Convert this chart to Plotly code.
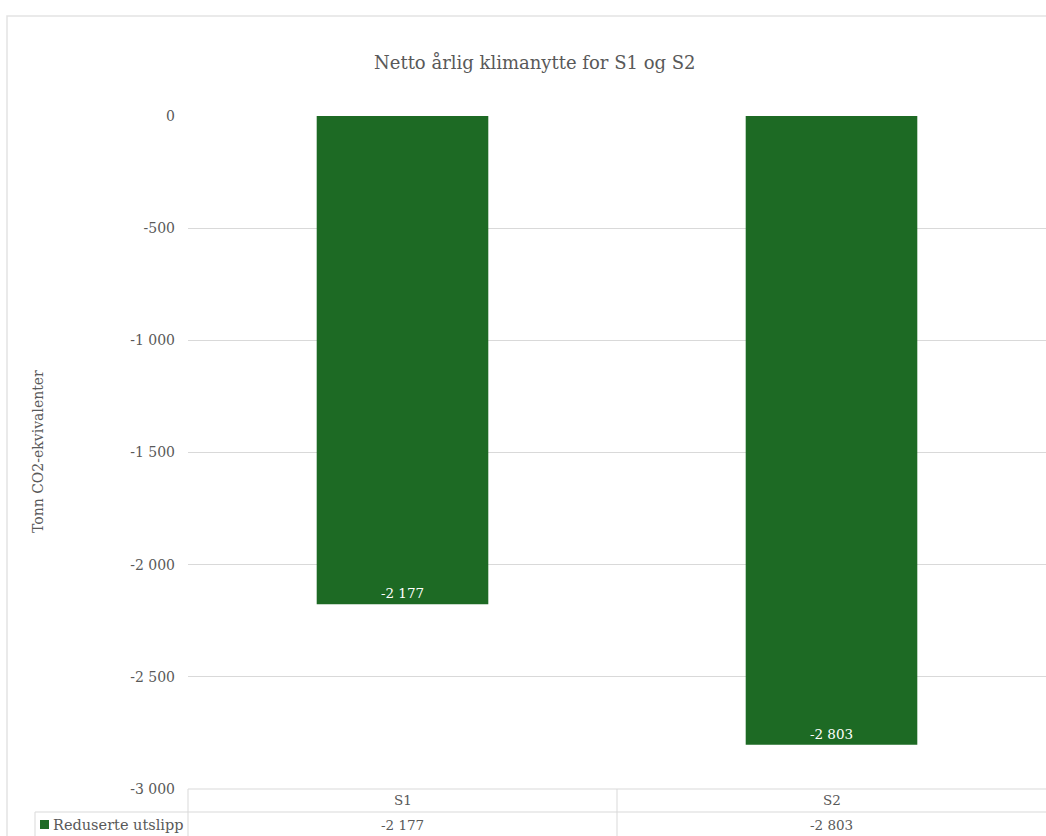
import plotly.graph_objects as go

# Data
categories = ["S1", "S2"]
series_name = "Reduserte utslipp"
values = [-2177, -2803]
tick_values = [0, -500, -1000, -1500, -2000, -2500, -3000]

title_text = "Netto årlig klimanytte for S1 og S2"
y_title = "Tonn CO2-ekvivalenter"

W, H = 1046, 836
ML, MR, MT, MB = 188, 0, 116, 47
PW, PH = W - ML - MR, H - MT - MB

FONT = "DejaVu Serif"
TXT = "#595959"
GRID = "#d9d9d9"
BAR = "#1d6a24"


def fmt(v):
    s = f"{abs(v):,}".replace(",", " ")
    return ("-" if v < 0 else "") + s


def px(x):
    return (x - ML) / PW


def py(y):
    return (H - MB - y) / PH


fig = go.Figure()
fig.add_trace(go.Bar(
    x=categories,
    y=values,
    name=series_name,
    marker=dict(color=BAR, line=dict(width=0)),
    width=0.4,
    text=[fmt(v) for v in values],
    textposition="inside",
    insidetextanchor="end",
    textangle=0,
    textfont=dict(family=FONT, size=13.5, color="white"),
    hoverinfo="skip",
))

shapes = []
line_style = dict(color=GRID, width=1)
# chart outer border
shapes.append(dict(type="rect", xref="paper", yref="paper",
                   x0=px(7), x1=px(1060), y0=py(16), y1=py(850),
                   line=dict(color="#e3e3e3", width=1.5), layer="below"))
# data table grid
shapes.append(dict(type="line", xref="paper", yref="paper",
                   x0=px(188), x1=px(1050), y0=py(789), y1=py(789), line=line_style))
shapes.append(dict(type="line", xref="paper", yref="paper",
                   x0=px(35), x1=px(1050), y0=py(812), y1=py(812), line=line_style))
for xv in (188, 617):
    shapes.append(dict(type="line", xref="paper", yref="paper",
                       x0=px(xv), x1=px(xv), y0=py(789), y1=py(850), line=line_style))
shapes.append(dict(type="line", xref="paper", yref="paper",
                   x0=px(35), x1=px(35), y0=py(812), y1=py(850), line=line_style))
# legend key
shapes.append(dict(type="rect", xref="paper", yref="paper",
                   x0=px(40), x1=px(49), y0=py(820), y1=py(829),
                   fillcolor=BAR, line=dict(width=0)))

annotations = []
for c, v in zip(categories, values):
    annotations.append(dict(x=c, xref="x", y=py(800), yref="paper", text=c,
                            showarrow=False, font=dict(family=FONT, size=13.5, color=TXT),
                            xanchor="center", yanchor="middle"))
    annotations.append(dict(x=c, xref="x", y=py(825), yref="paper", text=fmt(v),
                            showarrow=False, font=dict(family=FONT, size=13.5, color=TXT),
                            xanchor="center", yanchor="middle"))
annotations.append(dict(x=px(51), xref="paper", y=py(825), yref="paper", text=series_name,
                        showarrow=False, font=dict(family=FONT, size=14.5, color=TXT),
                        xanchor="left", yanchor="middle"))
annotations.append(dict(x=px(38), xref="paper", y=py(452), yref="paper", text=y_title,
                        showarrow=False, textangle=-90,
                        font=dict(family=FONT, size=14, color=TXT),
                        xanchor="center", yanchor="middle"))
annotations.append(dict(x=px(535), xref="paper", y=py(62), yref="paper", text=title_text,
                        showarrow=False, font=dict(family=FONT, size=18, color=TXT),
                        xanchor="center", yanchor="middle"))

fig.update_layout(
    width=W, height=H,
    margin=dict(l=ML, r=MR, t=MT, b=MB, pad=0),
    paper_bgcolor="white", plot_bgcolor="white",
    showlegend=False,
    bargap=0.6,
    shapes=shapes,
    annotations=annotations,
    font=dict(family=FONT, color=TXT),
)
fig.update_xaxes(showticklabels=False, showgrid=False, zeroline=False, showline=False,
                 range=[-0.5, 1.5], fixedrange=True)
fig.update_yaxes(range=[-3000, 0], tickvals=tick_values, ticktext=[fmt(v) for v in tick_values],
                 showgrid=True, gridcolor=GRID, gridwidth=1, zeroline=False, showline=False,
                 ticks="", ticklabelstandoff=12,
                 tickfont=dict(family=FONT, size=14, color=TXT), fixedrange=True)

fig.write_html("out.html")
